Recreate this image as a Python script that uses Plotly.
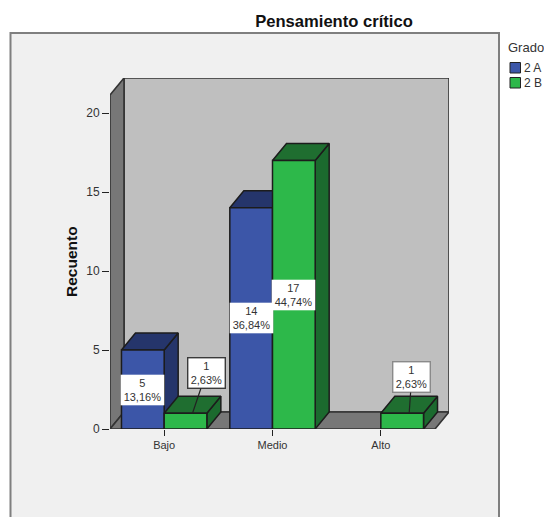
import plotly.graph_objects as go

categories = ["Bajo", "Medio", "Alto"]
series_names = ["2 A", "2 B"]
values_a = [5, 14, None]
values_b = [1, 17, 1]
percent_a = ["13,16%", "36,84%", None]
percent_b = ["2,63%", "44,74%", "2,63%"]
y_ticks = [0, 5, 10, 15, 20]

W, H = 544, 517
L, R, T, B = 110, 449, 78, 429
Y_PX = 15.8
X_PX = 108.33
DX = 14 / X_PX
DY = 17 / Y_PX
XR = [-0.5, 2.5 + DX]
YR = [0, (B - T) / Y_PX]
FRONT_TOP = (B - 95) / Y_PX
HALF = 0.394
EDGE = "#1c1c1c"
WALL_EDGE = "#333333"
BLUE, BLUE_DK = "#3c56a8", "#25356b"
GREEN, GREEN_TOP, GREEN_SIDE = "#2db84a", "#1f6e30", "#1b6a2e"


def px(x):
    return (x - L) / (R - L)


def py(y):
    return (B - y) / (B - T)


def poly(xs, ys, fill, edge=EDGE, w=1.5):
    return go.Scatter(x=xs + xs[:1], y=ys + ys[:1], mode="lines", fill="toself",
                      fillcolor=fill, line=dict(color=edge, width=w),
                      showlegend=False, hoverinfo="skip")


fig = go.Figure()
# walls
fig.add_trace(poly([-0.5 + DX, 2.5 + DX, 2.5 + DX, -0.5 + DX],
                   [DY, DY, YR[1], YR[1]], "#bfbfbf", WALL_EDGE, 1.6))
fig.add_trace(poly([-0.5, -0.5 + DX, -0.5 + DX, -0.5],
                   [0, DY, YR[1], FRONT_TOP], "#777777", WALL_EDGE, 1.6))
fig.add_trace(poly([-0.5, 2.5, 2.5 + DX, -0.5 + DX], [0, 0, DY, DY], "#777777", WALL_EDGE, 1.6))

# 3D top and side faces
for i in range(len(categories)):
    for vals, x0, top, side in ((values_a, i - HALF, BLUE_DK, BLUE_DK),
                                (values_b, i, GREEN_TOP, GREEN_SIDE)):
        v = vals[i]
        if v is None:
            continue
        x1 = x0 + HALF
        fig.add_trace(poly([x1, x1 + DX, x1 + DX, x1], [0, DY, v + DY, v], side))
        fig.add_trace(poly([x0, x1, x1 + DX, x0 + DX], [v, v, v + DY, v + DY], top))

# front faces as real bars on an overlaid pair of axes
for name, vals, color in ((series_names[0], values_a, BLUE), (series_names[1], values_b, GREEN)):
    fig.add_trace(go.Bar(x=list(range(len(categories))), y=vals, name=name,
                         marker=dict(color=color, line=dict(color=EDGE, width=1.5)),
                         xaxis="x2", yaxis="y2", showlegend=False))

FONT = "Liberation Sans"
TXT = "#333333"
ann = []


def box(x, y, count, pct, ax=None, ay=None, border="rgba(0,0,0,0)", w=42, h=29):
    a = dict(x=x, y=y, text=f"{count}<br>{pct}", xref="x", yref="y",
             font=dict(family=FONT, size=11, color=TXT),
             bgcolor="white", bordercolor=border, borderwidth=1.4, borderpad=0,
             width=w, height=h, align="center", valign="middle")
    if ax is None:
        a.update(showarrow=False)
    else:
        a.update(showarrow=True, arrowhead=0, arrowwidth=1.2, arrowcolor="#222222",
                 ax=ax, ay=ay, axref="pixel", ayref="pixel")
    ann.append(a)


for i in range(len(categories)):
    if values_a[i] is not None:
        box(i - HALF / 2, values_a[i] / 2, values_a[i], percent_a[i])
box(1 + HALF / 2, values_b[1] / 2, values_b[1], percent_b[1])
box(0 + HALF / 2 + DX / 2, values_b[0], values_b[0], percent_b[0], ax=13.5, ay=-40,
    border="#3a3a3a", w=36, h=29)
box(2 + HALF / 2 + DX / 2, values_b[2], values_b[2], percent_b[2], ax=2.5, ay=-36,
    border="#8a8a8a", w=36, h=29)

ann.append(dict(x=px(71), y=py(262), xref="paper", yref="paper", text="<b>Recuento</b>",
                textangle=-90, showarrow=False, xanchor="center", yanchor="middle",
                font=dict(family=FONT, size=15.5, color="#111111")))
ann.append(dict(x=px(506.5), y=py(47), xref="paper", yref="paper", text="Grado", xanchor="left",
                yanchor="middle", xshift=-1, showarrow=False,
                font=dict(family=FONT, size=13, color=TXT)))

shapes = [dict(type="rect", xref="paper", yref="paper", layer="below",
               x0=px(10.5), x1=px(499), y0=py(33), y1=py(540),
               fillcolor="#f0f0f0", line=dict(color="#7f7f7f", width=2))]
for name, color, yc in ((series_names[0], BLUE, 68), (series_names[1], GREEN, 83)):
    shapes.append(dict(type="rect", xref="paper", yref="paper",
                       x0=px(510), x1=px(520.5), y0=py(yc - 5.5), y1=py(yc + 5),
                       fillcolor=color, line=dict(color="#222222", width=1)))
    ann.append(dict(x=px(522.5), y=py(yc), xref="paper", yref="paper", text=name, xanchor="left",
                    yanchor="middle", xshift=-1, showarrow=False,
                    font=dict(family=FONT, size=12, color=TXT)))

fig.update_layout(
    width=W, height=H, autosize=False,
    margin=dict(l=L, r=W - R, t=T, b=H - B, pad=0),
    paper_bgcolor="white", plot_bgcolor="rgba(0,0,0,0)",
    barmode="group", bargap=1 - 2 * HALF, bargroupgap=0,
    showlegend=False,
    title=dict(text="<b>Pensamiento crítico</b>", x=334 / W, y=1 - 21 / H,
               xanchor="center", yanchor="middle",
               font=dict(family=FONT, size=16.6, color="#111111")),
    font=dict(family=FONT, size=11, color=TXT),
    xaxis=dict(range=XR, tickmode="array", tickvals=list(range(len(categories))), ticktext=categories,
               ticks="outside", ticklen=6, tickwidth=1.2, tickcolor="#222222",
               showgrid=False, zeroline=False, showline=False, fixedrange=True,
               tickfont=dict(family=FONT, size=11, color=TXT)),
    yaxis=dict(range=YR, tickmode="array", tickvals=y_ticks,
               ticks="outside", ticklen=7, tickwidth=1.2, tickcolor="#222222",
               showgrid=False, zeroline=False, showline=False, fixedrange=True,
               tickfont=dict(family=FONT, size=12, color=TXT)),
    xaxis2=dict(range=XR, overlaying="x", visible=False, fixedrange=True),
    yaxis2=dict(range=YR, overlaying="y", visible=False, fixedrange=True),
    annotations=ann, shapes=shapes,
)
fig.write_html("out.html", config={"displayModeBar": False},
               post_script="document.body.style.margin='0';")
